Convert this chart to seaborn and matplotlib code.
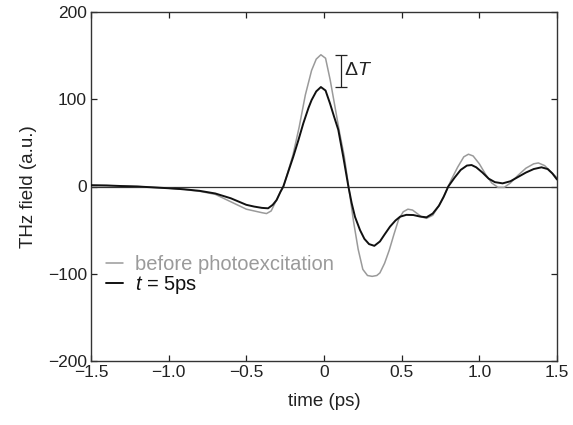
import numpy as np
import pandas as pd
import matplotlib
matplotlib.use("Agg")
import matplotlib.pyplot as plt
import seaborn as sns

# ---- data ----
t_before = [-1.5, -1.4, -1.3, -1.2, -1.1, -1.0, -0.9, -0.8, -0.7, -0.6, -0.5, -0.45, -0.4, -0.37,
            -0.34, -0.31, -0.28, -0.26, -0.23, -0.2, -0.16, -0.12, -0.08, -0.05, -0.02, 0.01,
            0.04, 0.07, 0.10, 0.13, 0.16, 0.19, 0.22, 0.25, 0.28, 0.31, 0.34, 0.36, 0.39, 0.42,
            0.45, 0.48, 0.51, 0.54, 0.57, 0.60, 0.63, 0.66, 0.70, 0.74, 0.78, 0.82, 0.86, 0.90,
            0.93, 0.96, 1.00, 1.04, 1.08, 1.12, 1.16, 1.20, 1.25, 1.30, 1.35, 1.38, 1.42, 1.46, 1.5]
v_before = [1, 1, 0.5, 0, -1, -2, -3.5, -5.5, -9, -17.5, -26, -28, -30, -31,
            -28, -17, -6, 0, 18, 36, 68, 105, 133, 146, 151, 147,
            122, 92, 62, 35, -2, -40, -72, -95, -102, -103, -102, -99, -88, -73,
            -55, -38, -29, -26, -27, -31, -35, -36.5, -33, -22, -8, 8, 22, 34,
            37, 35, 26, 14, 4, -1, -1, 4, 13, 21, 26, 27, 24, 17, 10]

t_after = [-1.5, -1.4, -1.3, -1.2, -1.1, -1.0, -0.9, -0.8, -0.7, -0.6, -0.5, -0.45, -0.4, -0.36,
           -0.33, -0.305, -0.28, -0.262, -0.23, -0.198, -0.165, -0.133, -0.10, -0.08, -0.05,
           -0.02, 0.01, 0.039, 0.065, 0.092, 0.124, 0.157, 0.178, 0.20, 0.232, 0.26, 0.29,
           0.324, 0.36, 0.39, 0.425, 0.46, 0.49, 0.53, 0.575, 0.62, 0.66, 0.70, 0.74, 0.77,
           0.80, 0.84, 0.88, 0.92, 0.95, 0.98, 1.02, 1.06, 1.10, 1.15, 1.20, 1.25, 1.30, 1.35,
           1.40, 1.44, 1.47, 1.5]
v_after = [1.5, 1.2, 0.5, 0, -1, -2, -3.2, -5, -8, -13.5, -21, -23, -24.5, -25,
           -21, -15.5, -6, 0, 17, 34, 53, 72.5, 90, 99, 109,
           114, 110, 95, 80, 65, 34, 0, -19, -35, -50, -60, -66,
           -68, -63, -55, -46, -39, -34.6, -32.5, -32.7, -34.5, -35.3, -31, -22, -12,
           0, 10, 19, 24, 24.6, 22, 16, 9, 5, 3.6, 6, 11, 16, 20,
           22, 20, 15, 8]

series_labels = ["before photoexcitation", "$t$ = 5ps"]
x_ticks = [-1.5, -1.0, -0.5, 0, 0.5, 1.0, 1.5]
x_ticklabels = ["\u22121.5", "\u22121.0", "\u22120.5", "0", "0.5", "1.0", "1.5"]
y_ticks = [-200, -100, 0, 100, 200]
y_ticklabels = ["\u2212200", "\u2212100", "0", "100", "200"]

# ---- style ----
sns.set_style("ticks")
plt.rcParams["font.family"] = ["Liberation Sans", "DejaVu Sans"]
plt.rcParams["mathtext.fontset"] = "custom"
plt.rcParams["mathtext.rm"] = "Liberation Sans"
plt.rcParams["mathtext.it"] = "Liberation Sans:italic"

fig = plt.figure(figsize=(5.73, 4.25), dpi=100)
ax = fig.add_axes([91 / 573, 1 - 361 / 425, (557 - 91) / 573, (361 - 12) / 425])

grey = "#9a9a9a"
df_b = pd.DataFrame({"t": t_before, "v": v_before})
df_a = pd.DataFrame({"t": t_after, "v": v_after})

ax.axhline(0, color="#333333", lw=0.9, zorder=1)
sns.lineplot(data=df_b, x="t", y="v", ax=ax, color=grey, lw=1.1,
             label=series_labels[0], sort=False, zorder=2)
sns.lineplot(data=df_a, x="t", y="v", ax=ax, color="#111111", lw=1.4,
             label=series_labels[1], sort=False, zorder=3)

# Delta T marker between the two peaks
ib = int(np.argmax(v_before))
ia = int(np.argmax(v_after))
xbar = t_after[ia] + 0.13
ax.errorbar([xbar], [(v_before[ib] + v_after[ia]) / 2],
            yerr=[(v_before[ib] - v_after[ia]) / 2], color="#222222",
            lw=0.9, capsize=4, capthick=0.9, fmt="none")
ax.text(xbar + 0.018, (v_before[ib] + v_after[ia]) / 2, r"$\Delta T$",
        fontsize=14, va="center", ha="left", color="#222222")

ax.set_xlim(-1.5, 1.5)
ax.set_ylim(-200, 200)
ax.set_xticks(x_ticks)
ax.set_xticklabels(x_ticklabels)
ax.set_yticks(y_ticks)
ax.set_yticklabels(y_ticklabels)
ax.tick_params(direction="in", length=4, width=0.9, top=True, right=True,
               labelsize=12.5, colors="#222222", pad=3)
for s in ax.spines.values():
    s.set_color("#333333")
    s.set_linewidth(1.0)
ax.set_xlabel("time (ps)", fontsize=13.5, color="#222222", labelpad=9)
ax.set_ylabel("THz field (a.u.)", fontsize=13.5, color="#222222", labelpad=8)

leg = ax.legend(loc="upper left", bbox_to_anchor=(0.003, 0.345), frameon=False,
                fontsize=14.5, handlelength=0.8, handletextpad=0.6,
                labelspacing=0.0, borderaxespad=0.3)
for txt, c in zip(leg.get_texts(), [grey, "#111111"]):
    txt.set_color(c)

fig.savefig("out.png", dpi=100)
